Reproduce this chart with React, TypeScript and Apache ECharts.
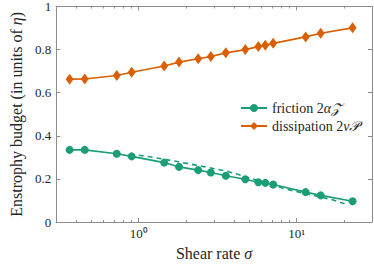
import React, { useEffect, useRef } from "react";
import * as echarts from "echarts";

const sigma = [0.365, 0.455, 0.726, 0.902, 1.45, 1.8, 2.38, 2.86, 3.56, 4.73, 5.72, 6.33, 7.1, 11.4, 14.2, 22.6];
const friction = [0.335, 0.335, 0.317, 0.305, 0.276, 0.256, 0.241, 0.23, 0.215, 0.199, 0.185, 0.182, 0.174, 0.139, 0.124, 0.097];
const dissipation = [0.663, 0.664, 0.68, 0.695, 0.724, 0.742, 0.758, 0.768, 0.785, 0.8, 0.814, 0.82, 0.829, 0.859, 0.876, 0.901];
const fitSigma = [1.0, 1.17, 1.75, 3.68, 8.19, 9.66, 17.0, 20.1];
const fitFriction = [0.31, 0.303, 0.281, 0.235, 0.157, 0.144, 0.103, 0.085];
const xMin = 0.3;
const xMax = 30;
const majorTicks = [1, 10];
const minorTicks = [0.4, 0.5, 0.6, 0.7, 0.8, 0.9, 2, 3, 4, 5, 6, 7, 8, 9, 20];

const GREEN = "#1b9e77";
const ORANGE = "#d95f02";
const AXIS = "#8c8c8c";
const TEXT = "#262626";
const FONT = "Liberation Serif";
const sup: Record<string, string> = { "0": "⁰", "1": "¹", "2": "²", "-": "⁻" };

export default function App() {
  const ref = useRef<HTMLDivElement>(null);
  useEffect(() => {
    if (!ref.current) return;
    const chart = echarts.init(ref.current, undefined, { renderer: "svg" });
    const L = (v: number) => Math.log10(v);
    const lmin = L(xMin);
    const lmax = L(xMax);
    const major = majorTicks.map(L);
    const minor = minorTicks.map(L);
    const baseX = {
      type: "value" as const,
      min: lmin,
      max: lmax,
      splitLine: { show: false },
    };
    const rich = {
      i: { fontFamily: FONT, fontStyle: "italic" as const, fontSize: 16, color: TEXT },
    };
    chart.setOption({
      animation: false,
      textStyle: { fontFamily: FONT },
      grid: { left: 41, right: 2, top: 6, bottom: 40, containLabel: false },
      legend: {
        orient: "vertical",
        left: 240,
        top: 101,
        padding: 0,
        itemWidth: 26,
        itemHeight: 10,
        itemGap: 4,
        data: ["friction", "dissipation"],
        formatter: (n: string) => (n === "friction" ? "friction 2{i|α𝒵}" : "dissipation 2{i|ν𝒫}"),
        textStyle: { fontFamily: FONT, fontSize: 14, color: TEXT, rich: { i: { fontFamily: FONT, fontStyle: "italic", fontSize: 14, color: TEXT } } },
      },
      xAxis: [
        {
          ...baseX,
          position: "bottom",
          axisLine: { show: true, onZero: false, lineStyle: { color: AXIS, width: 1 } },
          axisTick: { show: true, inside: true, length: 4, customValues: major, lineStyle: { color: AXIS } },
          axisLabel: {
            show: true,
            customValues: major,
            margin: 5,
            fontFamily: FONT,
            fontSize: 13,
            color: TEXT,
            formatter: (v: number) => "10" + String(Math.round(v)).split("").map((c) => sup[c] || c).join(""),
          },
          name: "Shear rate {i|σ}",
          nameLocation: "middle",
          nameGap: 21,
          nameTextStyle: { fontFamily: FONT, fontSize: 16, color: TEXT, rich },
        },
        {
          ...baseX,
          position: "bottom",
          axisLine: { show: false, onZero: false },
          axisTick: { show: true, inside: true, length: 2, customValues: minor, lineStyle: { color: AXIS } },
          axisLabel: { show: false },
        },
        {
          ...baseX,
          position: "top",
          axisLine: { show: true, onZero: false, lineStyle: { color: AXIS, width: 1 } },
          axisTick: { show: true, inside: true, length: 4, customValues: major, lineStyle: { color: AXIS } },
          axisLabel: { show: false },
        },
        {
          ...baseX,
          position: "top",
          axisLine: { show: false, onZero: false },
          axisTick: { show: true, inside: true, length: 2, customValues: minor, lineStyle: { color: AXIS } },
          axisLabel: { show: false },
        },
      ],
      yAxis: [
        {
          type: "value",
          min: 0,
          max: 1,
          interval: 0.2,
          position: "left",
          splitLine: { show: false },
          axisLine: { show: true, onZero: false, lineStyle: { color: AXIS, width: 1 } },
          axisTick: { show: true, inside: true, length: 4, lineStyle: { color: AXIS } },
          axisLabel: { margin: 5, fontFamily: FONT, fontSize: 13, color: TEXT },
          name: "Enstrophy budget (in units of {i|η})",
          nameLocation: "middle",
          nameGap: 30,
          nameTextStyle: { fontFamily: FONT, fontSize: 16, color: TEXT, rich },
        },
        {
          type: "value",
          min: 0,
          max: 1,
          interval: 0.2,
          position: "right",
          splitLine: { show: false },
          axisLine: { show: true, onZero: false, lineStyle: { color: AXIS, width: 1 } },
          axisTick: { show: true, inside: true, length: 4, lineStyle: { color: AXIS } },
          axisLabel: { show: false },
        },
      ],
      series: [
        {
          name: "friction",
          type: "line",
          xAxisIndex: 0,
          yAxisIndex: 0,
          data: sigma.map((s, i) => [L(s), friction[i]]),
          symbol: "circle",
          symbolSize: 8,
          lineStyle: { color: GREEN, width: 1.6 },
          itemStyle: { color: GREEN },
          z: 3,
        },
        {
          name: "dissipation",
          type: "line",
          xAxisIndex: 0,
          yAxisIndex: 0,
          data: sigma.map((s, i) => [L(s), dissipation[i]]),
          symbol: "diamond",
          symbolSize: [8, 11],
          lineStyle: { color: ORANGE, width: 1.6 },
          itemStyle: { color: ORANGE },
          z: 3,
        },
        {
          name: "fit",
          type: "line",
          xAxisIndex: 0,
          yAxisIndex: 0,
          data: fitSigma.map((s, i) => [L(s), fitFriction[i]]),
          symbol: "none",
          lineStyle: { color: GREEN, width: 1.6, type: [5, 4] },
          z: 2,
        },
      ],
    });
    return () => chart.dispose();
  }, []);
  return <div ref={ref} style={{ position: "absolute", left: 0, top: 0, width: 374, height: 266 }} />;
}
